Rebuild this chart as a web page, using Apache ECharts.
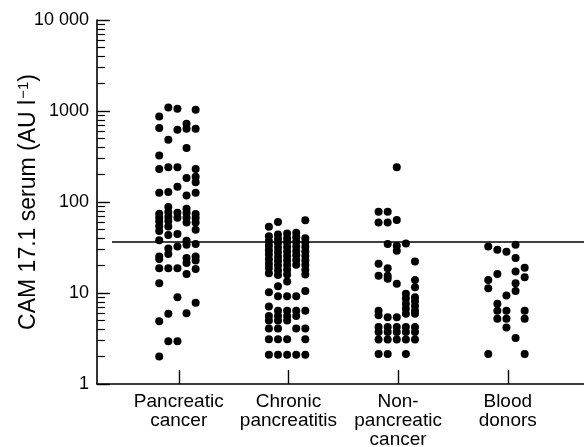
<!DOCTYPE html>
<html>
<head>
<meta charset="utf-8">
<script src="https://cdn.jsdelivr.net/npm/echarts@6/dist/echarts.min.js"></script>
<style>html,body{margin:0;padding:0;background:#fff}#c{width:584px;height:447px}</style>
</head>
<body>
<div id="c"></div>
<script>
// ---- data ----
const categories = ['Pancreatic\ncancer', 'Chronic\npancreatitis', 'Non-\npancreatic\ncancer', 'Blood\ndonors'];
const yTickValues = [1, 10, 100, 1000, 10000];
const yTickLabels = ['1', '10', '100', '1000', '10 000'];
const cutoff = 37;

// each group: five dot columns (left to right), values in AU/l
const pancreaticCancer = [
  [871, 649, 324, 231, 126, 74.5, 67.3, 61, 54, 48, 38.1, 25.2, 23.7, 18.7, 12.8, 4.9, 2.0],
  [1092, 484, 241, 129, 88, 77.8, 69, 62, 53.7, 43.3, 30.9, 26.8, 18.7, 5.9, 2.95],
  [1057, 623, 241, 147, 76.4, 67.3, 44.4, 32.5, 18.7, 9.0, 2.95],
  [725, 639, 392, 184, 118, 84.5, 76.4, 67.3, 59.4, 37.5, 33.9, 24.2, 21.4, 16.2, 6.0],
  [1031, 639, 231, 189, 165, 126, 74, 66.8, 59.4, 49.4, 34.5, 25.2, 22.7, 18.4, 7.8]
];
const chronicPancreatitis = [
  [53.3, 42, 37, 33, 29.5, 26.5, 23.5, 21, 18.8, 16.5, 10.2, 7.1, 5.6, 5.0, 4.06, 3.1, 2.1],
  [60.3, 44, 39.5, 35.5, 31.5, 28, 25, 22.5, 20, 17.8, 15.8, 11.9, 9.2, 6.4, 5.6, 5.0, 4.06, 3.1, 2.1],
  [45, 40, 36, 32, 28.5, 25.5, 22.8, 20.3, 18, 16, 13.4, 9.2, 6.4, 5.6, 5.0, 3.1, 2.1],
  [46, 41, 36.5, 32.5, 29, 26, 23, 20.5, 9.2, 6.4, 5.6, 4.06, 2.1],
  [63, 40, 36, 32, 28.5, 25.5, 22.8, 20.3, 18, 16, 10.5, 6.4, 4.06, 3.1, 2.1]
];
const nonPancreaticCancer = [
  [78.3, 59.4, 20.9, 15.5, 6.4, 5.7, 4.23, 3.73, 3.08, 2.13],
  [78.3, 59.4, 34.5, 18.7, 15.5, 14.3, 5.4, 4.23, 3.73, 3.08, 2.13],
  [241, 63.6, 33, 29.1, 12.6, 5.4, 4.23, 3.73, 3.08],
  [35, 9.8, 8.7, 7.6, 6.7, 5.9, 4.23, 3.73, 3.08, 2.13],
  [22.2, 13.9, 11.6, 9.0, 8.1, 7.2, 6.4, 5.9, 4.23, 3.73, 3.08]
];
const bloodDonors = [
  [32.5, 13.9, 11.3, 2.13],
  [29.8, 16.2, 7.6, 6.4, 5.2],
  [28.4, 9.4, 6.4, 5.2, 4.17],
  [33.9, 24.2, 17.2, 12.8, 10.5, 3.2],
  [18.9, 14.9, 6.4, 5.2, 2.13]
];
const groups = [pancreaticCancer, chronicPancreatitis, nonPancreaticCancer, bloodDonors];

// ---- layout ----
const XMIN = 0.2546, XMAX = 4.695;
const COL_STEP = 0.083;
const GROUP_SHIFT = -0.012;
const LINE_X0 = XMIN + 15 / 109.67;
const FONT = '"Liberation Sans", Arial, Helvetica, sans-serif';

const points = [];
groups.forEach((cols, g) => {
  cols.forEach((vals, c) => {
    vals.forEach(v => points.push([g + 1 + GROUP_SHIFT + (c - 2) * COL_STEP, v]));
  });
});
const minorTicks = [];
for (let d = 1; d < 10000; d *= 10) for (let k = 2; k <= 9; k++) minorTicks.push(d * k);

const chart = echarts.init(document.getElementById('c'), null, {renderer: 'canvas'});
chart.setOption({
  animation: false,
  backgroundColor: '#fff',
  textStyle: {fontFamily: FONT},
  grid: {left: 97, right: 0, top: 20, bottom: 63, outerBoundsMode: 'none', containLabel: false},
  xAxis: {
    type: 'value', min: XMIN, max: XMAX,
    axisLine: {show: true, lineStyle: {color: '#000', width: 1.6}},
    axisTick: {show: true, inside: true, length: 14, lineStyle: {color: '#000', width: 1.4}, customValues: [1, 2, 3, 4]},
    axisLabel: {
      customValues: [1, 2, 3, 4], color: '#000', fontSize: 19, lineHeight: 19, margin: 8, fontFamily: FONT,
      formatter: v => categories[Math.round(v) - 1]
    },
    splitLine: {show: false}
  },
  yAxis: [{
    type: 'log', min: 1, max: 10000, logBase: 10,
    name: '{t|CAM 17.1 serum (AU l}{s|−1}{t|)}', nameLocation: 'middle', nameGap: 56, nameMoveOverlap: false,
    nameTextStyle: {
      color: '#000', fontSize: 23, fontFamily: FONT,
      rich: {
        t: {fontSize: 23, color: '#000', fontFamily: FONT},
        s: {fontSize: 15, color: '#000', fontFamily: FONT, padding: [0, 0, 10, 1]}
      }
    },
    axisLine: {show: true, lineStyle: {color: '#000', width: 1.6}},
    axisTick: {show: true, inside: true, length: 13, lineStyle: {color: '#000', width: 1.4}, customValues: yTickValues},
    axisLabel: {
      customValues: yTickValues, color: '#000', fontSize: 18, margin: 8, fontFamily: FONT,
      formatter: v => yTickLabels[yTickValues.indexOf(v)] ?? ''
    },
    splitLine: {show: false}
  }, {
    type: 'log', min: 1, max: 10000, logBase: 10, position: 'left', offset: 0,
    axisLine: {show: false},
    axisTick: {show: true, inside: true, length: 8, lineStyle: {color: '#000', width: 1.2}, customValues: minorTicks},
    axisLabel: {show: false},
    splitLine: {show: false}
  }],
  series: [{
    type: 'scatter', yAxisIndex: 0,
    symbol: 'circle', symbolSize: 8,
    itemStyle: {color: '#000', opacity: 1},
    data: points,
    markLine: {
      silent: true, symbol: 'none', label: {show: false},
      lineStyle: {color: '#000', width: 1.6, type: 'solid', opacity: 1},
      data: [[{coord: [LINE_X0, cutoff]}, {coord: [XMAX, cutoff]}]]
    }
  }]
});
</script>
</body>
</html>
